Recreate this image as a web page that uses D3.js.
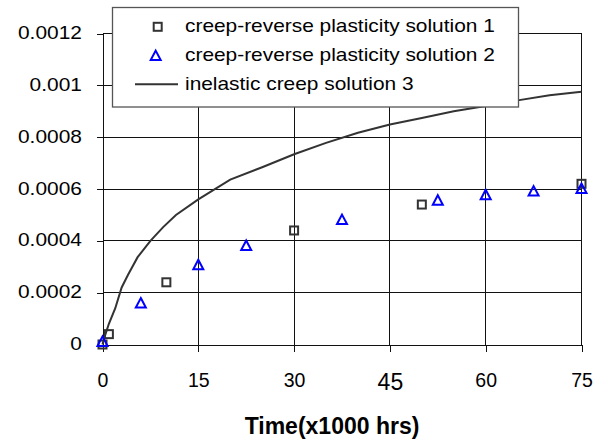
<!DOCTYPE html>
<html>
<head>
<meta charset="utf-8">
<script src="https://cdn.jsdelivr.net/npm/d3@7"></script>
<style>
  html, body { margin: 0; padding: 0; background: #fff; }
  svg { display: block; }
  text { font-family: "Liberation Sans", Arial, sans-serif; fill: #000; }
</style>
</head>
<body>
<svg id="chart" width="606" height="443"></svg>
<script>
// ---- data ----
const xTicks = [0, 15, 30, 45, 60, 75];
const xTickLabels = ["0", "15", "30", "45", "60", "75"];
const yTicks = [0, 0.0002, 0.0004, 0.0006, 0.0008, 0.001, 0.0012];
const yTickLabels = ["0", "0.0002", "0.0004", "0.0006", "0.0008", "0.001", "0.0012"];

const s1X = [0, 1, 10, 30, 50, 75];
const s1Y = [0, 0.00004, 0.00024, 0.00044, 0.00054, 0.00062];

const s2X = [0, 6, 15, 22.5, 37.5, 52.5, 60, 67.5, 75];
const s2Y = [0.00001, 0.000158, 0.000306, 0.00038, 0.00048, 0.000555, 0.000576, 0.00059, 0.0006];

const s3X = [0, 0.2, 1, 2, 3, 4, 5.5, 7.5, 9.5, 11.5, 15, 20, 25, 30, 35, 40, 45, 50, 55, 60, 65, 70, 75];
const s3Y = [0, 0.00002, 0.00008, 0.00014, 0.00022, 0.000269, 0.000337, 0.0004, 0.000453, 0.0005, 0.00056, 0.000636, 0.000684, 0.000734, 0.000778, 0.000817, 0.000849, 0.000874, 0.0009, 0.00092, 0.000942, 0.000962, 0.000975];

const seriesNames = ["creep-reverse plasticity solution 1", "creep-reverse plasticity solution 2", "inelastic creep solution 3"];
const xTitle = "Time(x1000 hrs)";

// ---- chart ----
const svg = d3.select("#chart");
svg.append("rect").attr("width", 606).attr("height", 443).attr("fill", "#fff");

const x = d3.scaleLinear().domain([0, 75]).range([102.5, 581.5]);
const y = d3.scaleLinear().domain([0, 0.0012]).range([344.5, 33.5]);

const grid = svg.append("g").attr("shape-rendering", "crispEdges");
grid.selectAll("line.h").data(yTicks.slice(1)).join("line")
  .attr("x1", x(0)).attr("x2", x(75))
  .attr("y1", d => y(d)).attr("y2", d => y(d))
  .attr("stroke", "#111").attr("stroke-width", 1);
grid.selectAll("line.v").data(xTicks.slice(1)).join("line")
  .attr("y1", y(0)).attr("y2", y(0.0012))
  .attr("x1", d => x(d)).attr("x2", d => x(d))
  .attr("stroke", "#111").attr("stroke-width", 1);

// X axis
const xAxis = svg.append("g")
  .attr("transform", `translate(0,${y(0)})`)
  .call(d3.axisBottom(x).tickValues(xTicks).tickSize(7).tickSizeOuter(0)
    .tickFormat((d, i) => xTickLabels[i]));
xAxis.select(".domain").attr("stroke", "#111").attr("shape-rendering", "crispEdges");
xAxis.selectAll(".tick line").attr("stroke", "#111").attr("shape-rendering", "crispEdges");
xAxis.selectAll(".tick text")
  .attr("dy", 0)
  .attr("y", (d, i) => xTickLabels[i] === "45" ? 45.5 : 42.8)
  .style("font-size", (d, i) => xTickLabels[i] === "45" ? "23px" : "19.5px")
  .attr("fill", "#000");

// Y axis
const yAxis = svg.append("g")
  .attr("transform", `translate(${x(0)},0)`)
  .call(d3.axisLeft(y).tickValues(yTicks).tickSize(6).tickSizeOuter(0)
    .tickFormat((d, i) => yTickLabels[i]));
yAxis.select(".domain").attr("stroke", "#111").attr("shape-rendering", "crispEdges");
yAxis.selectAll(".tick line").attr("stroke", "#111").attr("shape-rendering", "crispEdges");
yAxis.selectAll(".tick text")
  .attr("x", -18.2).attr("dy", 0).attr("y", 5)
  .attr("transform", "scale(1.135,1)")
  .style("font-size", "18.4px")
  .attr("fill", "#000");
svg.selectAll(".tick text").attr("font-family", null);

// curve
const line = d3.line().x((d, i) => x(s3X[i])).y((d, i) => y(s3Y[i]));
svg.append("path").datum(s3Y).attr("d", line)
  .attr("fill", "none").attr("stroke", "#333").attr("stroke-width", 2);

// markers
const triPath = "M0,-5.5L5,4L-5,4Z";
svg.append("g").selectAll("rect").data(s1Y).join("rect")
  .attr("x", (d, i) => x(s1X[i]) - 4).attr("y", d => y(d) - 4)
  .attr("width", 8).attr("height", 8)
  .attr("fill", "none").attr("stroke", "#333").attr("stroke-width", 2);
svg.append("g").selectAll("path").data(s2Y).join("path")
  .attr("d", triPath)
  .attr("transform", (d, i) => `translate(${x(s2X[i])},${y(d)})`)
  .attr("fill", "none").attr("stroke", "#0000ff").attr("stroke-width", 2)
  .attr("stroke-linejoin", "miter");

// legend
const lg = svg.append("g");
lg.append("rect").attr("x", 112.5).attr("y", 7.5).attr("width", 406).attr("height", 99.5)
  .attr("fill", "#fff").attr("stroke", "#555").attr("stroke-width", 1.3);
const rows = [31.8, 60.6, 89.6];
lg.append("rect").attr("x", 153.7).attr("y", rows[0] - 9).attr("width", 8).attr("height", 8)
  .attr("fill", "none").attr("stroke", "#333").attr("stroke-width", 2);
lg.append("path").attr("d", triPath).attr("transform", `translate(155.7,${rows[1] - 4.5})`)
  .attr("fill", "none").attr("stroke", "#0000ff").attr("stroke-width", 2);
lg.append("line").attr("x1", 135).attr("x2", 178).attr("y1", rows[2] - 5.3).attr("y2", rows[2] - 5.3)
  .attr("stroke", "#333").attr("stroke-width", 2);
seriesNames.forEach((name, i) => {
  lg.append("g").attr("transform", `translate(185,${rows[i]}) scale(1.135,1)`)
    .append("text").attr("x", 0).attr("y", 0)
    .style("font-size", "18.4px").text(name);
});

// x title
svg.append("text").attr("x", 332).attr("y", 433.5).attr("text-anchor", "middle")
  .style("font-size", "23px").style("font-weight", "bold").text(xTitle);
</script>
</body>
</html>
